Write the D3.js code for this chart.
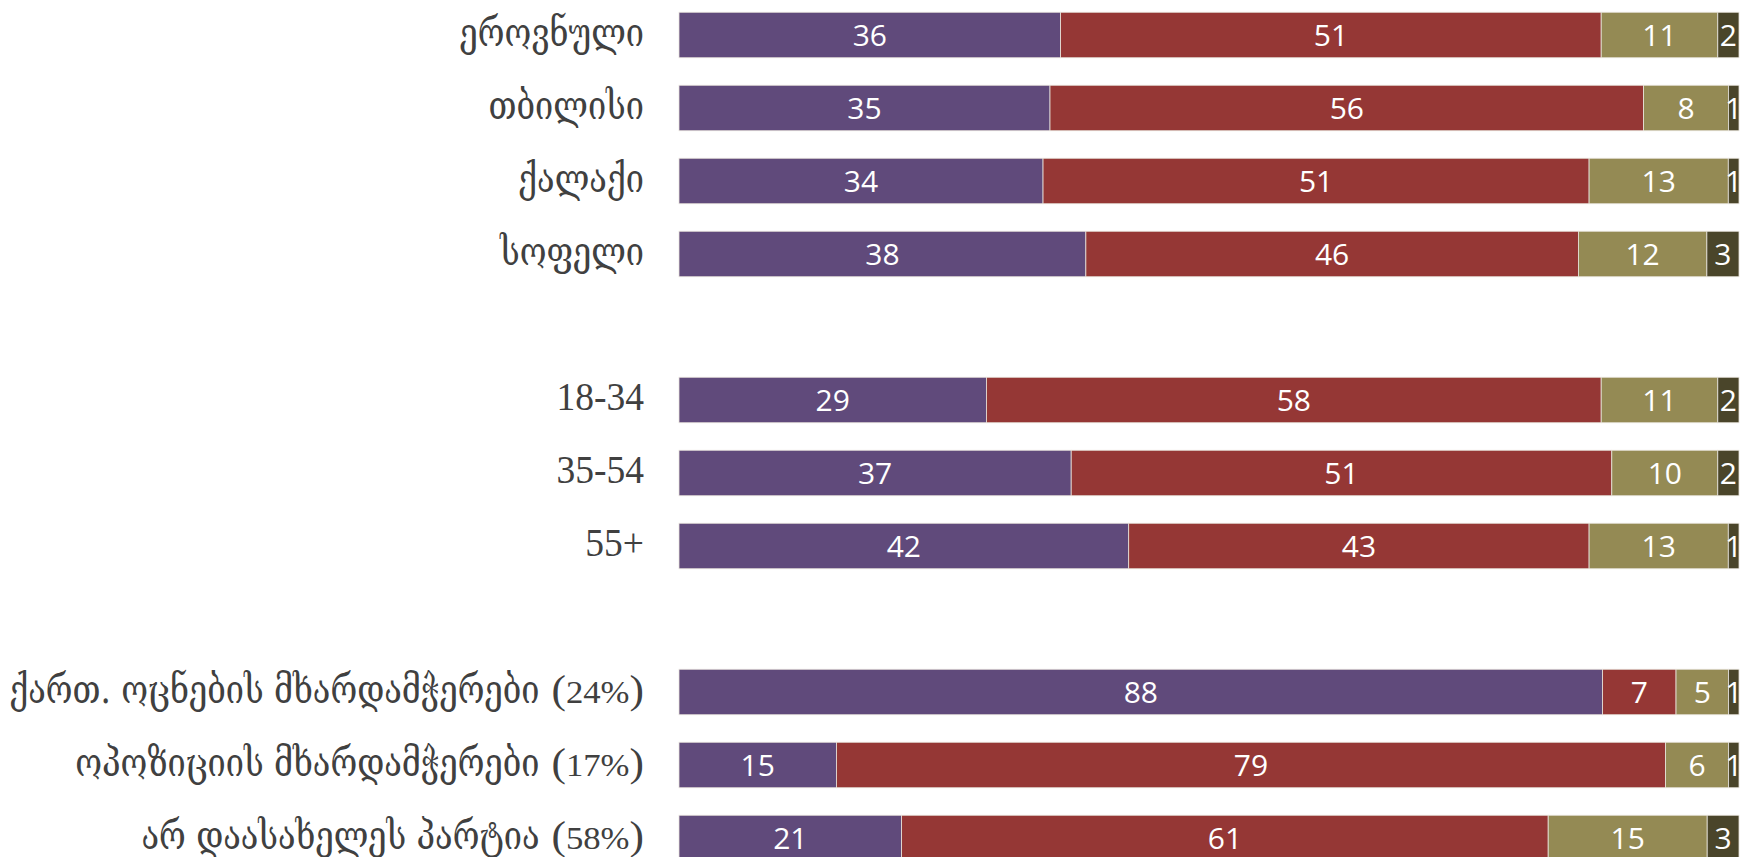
<!DOCTYPE html>
<html><head><meta charset="utf-8">
<script src="https://cdn.jsdelivr.net/npm/d3@7/dist/d3.min.js"></script>
<style>html,body{margin:0;padding:0;background:#fff;overflow:hidden}</style>
</head><body>
<svg id="chart" width="1741" height="857"></svg>
<script>
// ---- data ----
const categories = ["ეროვნული","თბილისი","ქალაქი","სოფელი","","18-34","35-54","55+"," ",
  "ქართ. ოცნების მხარდამჭერები (24%)","ოპოზიციის მხარდამჭერები (17%)","არ დაასახელეს პარტია (58%)"];
const s1 = [36,35,34,38,null,29,37,42,null,88,15,21];
const s2 = [51,56,51,46,null,58,51,43,null,7,79,61];
const s3 = [11,8,13,12,null,11,10,13,null,5,6,15];
const s4 = [2,1,1,3,null,2,2,1,null,1,1,3];
const seriesKeys = ["s1","s2","s3","s4"];
const colors = ["#604A7B","#953735","#948A54","#4A452A"];

const rows = categories.map((c,i)=>({id:"r"+i, label:c, blank:s1[i]==null,
  s1:s1[i]||0, s2:s2[i]||0, s3:s3[i]||0, s4:s4[i]||0}));

const svg = d3.select("#chart");
const x = d3.scaleLinear().domain([0,1]).range([679,1739]);
const y = d3.scaleBand().domain(rows.map(r=>r.id)).range([-1.5,874.5])
  .paddingInner(0.377).paddingOuter(0.1885);

const stack = d3.stack().keys(seriesKeys).offset(d3.stackOffsetExpand);
const filled = rows.filter(r=>!r.blank);
const layers = stack(filled);

const g = svg.append("g");
layers.forEach((layer,li)=>{
  const lg = g.append("g");
  lg.selectAll("rect").data(layer).enter().append("rect")
    .attr("x",d=>x(d[0])).attr("y",d=>y(d.data.id))
    .attr("width",d=>x(d[1])-x(d[0])).attr("height",y.bandwidth())
    .attr("fill",colors[li]).attr("stroke","#e8e4dc").attr("stroke-width",0.8);
  lg.selectAll("text").data(layer).enter().append("text")
    .attr("x",d=>(x(d[0])+x(d[1]))/2).attr("y",d=>y(d.data.id)+y.bandwidth()/2)
    .attr("dy","0.36em").attr("text-anchor","middle")
    .attr("font-family","'Open Sans', sans-serif").attr("font-size",30)
    .attr("fill","#fff").text(d=>d.data[seriesKeys[li]]);
});

// category labels: Georgian part + Latin/digit part drawn separately
const labelRight = 644;
const lg = svg.append("g");
filled.forEach(r=>{
  const cy = y(r.id) + y.bandwidth()/2;
  const m = r.label.match(/^([^\d(]*?)\s*([\d(].*)?$/);
  const geo = m[1], lat = m[2] || "";
  let w = 0;
  if (lat) {
    const isPar = lat.startsWith("(");
    const fs = isPar ? 31 : 37.5;
    const sx = isPar ? 1.12 : 1, sy = 1.05;
    const t = lg.append("text")
      .attr("transform",`translate(${labelRight},${cy}) scale(${sx},${sy})`)
      .attr("text-anchor","end").attr("dy",isPar?"0.33em":"0.26em")
      .attr("font-family","'Liberation Serif','Times New Roman',serif")
      .attr("font-size",fs).attr("fill","#404040");
    if (isPar) {
      const inner = lat.slice(1,-1);
      t.append("tspan").attr("font-size",fs*1.25).text("(");
      t.append("tspan").text(inner);
      t.append("tspan").attr("font-size",fs*1.25).text(")");
    } else t.text(lat);
    w = t.node().getComputedTextLength()*sx + (geo ? 12 : 0);
  }
  if (geo) {
    lg.append("text")
      .attr("transform",`translate(${labelRight - w},${cy}) scale(1,1.23)`)
      .attr("text-anchor","end").attr("dy","0.27em")
      .attr("font-family","'DejaVu Serif','DejaVu Sans',serif")
      .attr("font-size",32.5).attr("fill","#404040").text(geo);
  }
});
</script>
</body></html>
